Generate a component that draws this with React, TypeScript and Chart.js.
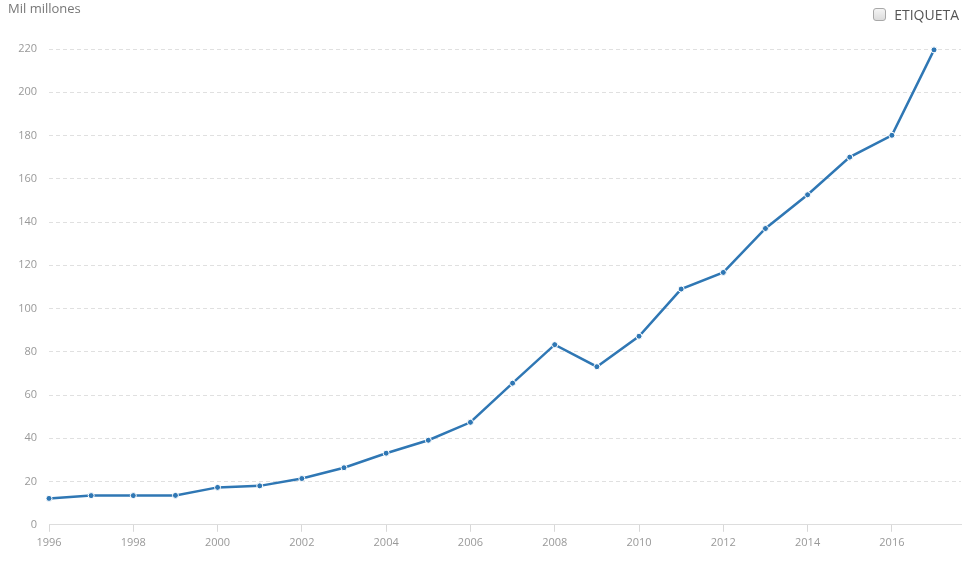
import React, { useEffect, useRef } from "react";
import { Chart, registerables } from "chart.js";

Chart.register(...registerables);

const years = [1996, 1997, 1998, 1999, 2000, 2001, 2002, 2003, 2004, 2005, 2006, 2007, 2008, 2009, 2010, 2011, 2012, 2013, 2014, 2015, 2016, 2017];
const values = [12.2, 13.5, 13.5, 13.6, 17.3, 18.0, 21.4, 26.4, 33.1, 39.1, 47.4, 65.5, 83.3, 73.1, 87.2, 109.0, 116.7, 137.0, 152.6, 170.0, 180.1, 219.6];
const yTicks = [0, 20, 40, 60, 80, 100, 120, 140, 160, 180, 200, 220];
const xTickStep = 2;
const yUnit = "Mil millones";
const legendLabel = "ETIQUETA";

const FONT = "'Open Sans', 'Noto Sans', sans-serif";

export default function App() {
  const ref = useRef<HTMLCanvasElement | null>(null);

  useEffect(() => {
    document.body.style.margin = "0";
    const canvas = ref.current;
    if (!canvas) return;
    const chart = new Chart(canvas, {
      type: "line",
      data: {
        datasets: [
          {
            label: legendLabel,
            data: years.map((x, i) => ({ x, y: values[i] })),
            borderColor: "#2f77b4",
            backgroundColor: "#2f77b4",
            borderWidth: 2.5,
            pointRadius: 3,
            pointBorderWidth: 1,
            pointBorderColor: "#ffffff",
            pointBackgroundColor: "#2f77b4",
            tension: 0,
            clip: false as any,
          },
        ],
      },
      options: {
        animation: false,
        responsive: false,
        maintainAspectRatio: false,
        layout: { autoPadding: false, padding: { top: 49, right: 1, bottom: 16, left: 0 } },
        plugins: {
          legend: { display: false },
          tooltip: { enabled: false },
        },
        scales: {
          x: {
            type: "linear",
            min: years[0],
            max: 2017.64,
            ticks: {
              stepSize: xTickStep,
              includeBounds: false,
              autoSkip: false,
              maxRotation: 0,
              padding: 4,
              color: "#999999",
              font: { family: FONT, size: 11 },
              callback: (v: any) => String(v),
            },
            grid: {
              drawOnChartArea: false,
              drawTicks: true,
              tickLength: 7,
              color: "#d8d8d8",
            },
            border: { display: true, color: "#dddddd", width: 1 },
          },
          y: {
            min: yTicks[0],
            max: yTicks[yTicks.length - 1],
            afterFit: (scale: any) => {
              scale.width = 49;
            },
            afterBuildTicks: (scale: any) => {
              scale.ticks = yTicks.map((v) => ({ value: v }));
            },
            ticks: {
              padding: 12,
              color: "#999999",
              font: { family: FONT, size: 11 },
              callback: (v: any) => String(v),
            },
            grid: {
              drawTicks: false,
              color: "#e0e0e0",
              lineWidth: 1,
            },
            border: { display: false, dash: [4, 3] },
          },
        },
      },
    });
    return () => chart.destroy();
  }, []);

  return (
    <div style={{ position: "relative", width: 962, height: 569, background: "#fff", fontFamily: FONT }}>
      <canvas ref={ref} width={962} height={569} style={{ display: "block", width: 962, height: 569 }} />
      <div style={{ position: "absolute", left: 8, top: -1, fontSize: 13, color: "#777" }}>{yUnit}</div>
      <div style={{ position: "absolute", right: 3, top: 5, display: "flex", alignItems: "center", fontSize: 14, color: "#555" }}>
        <span
          style={{
            display: "inline-block",
            width: 11,
            height: 11,
            border: "1px solid #a8a8a8",
            borderRadius: 3,
            background: "linear-gradient(#f4f4f4, #dcdcdc)",
            marginRight: 8,
          }}
        />
        <span>{legendLabel}</span>
      </div>
    </div>
  );
}
